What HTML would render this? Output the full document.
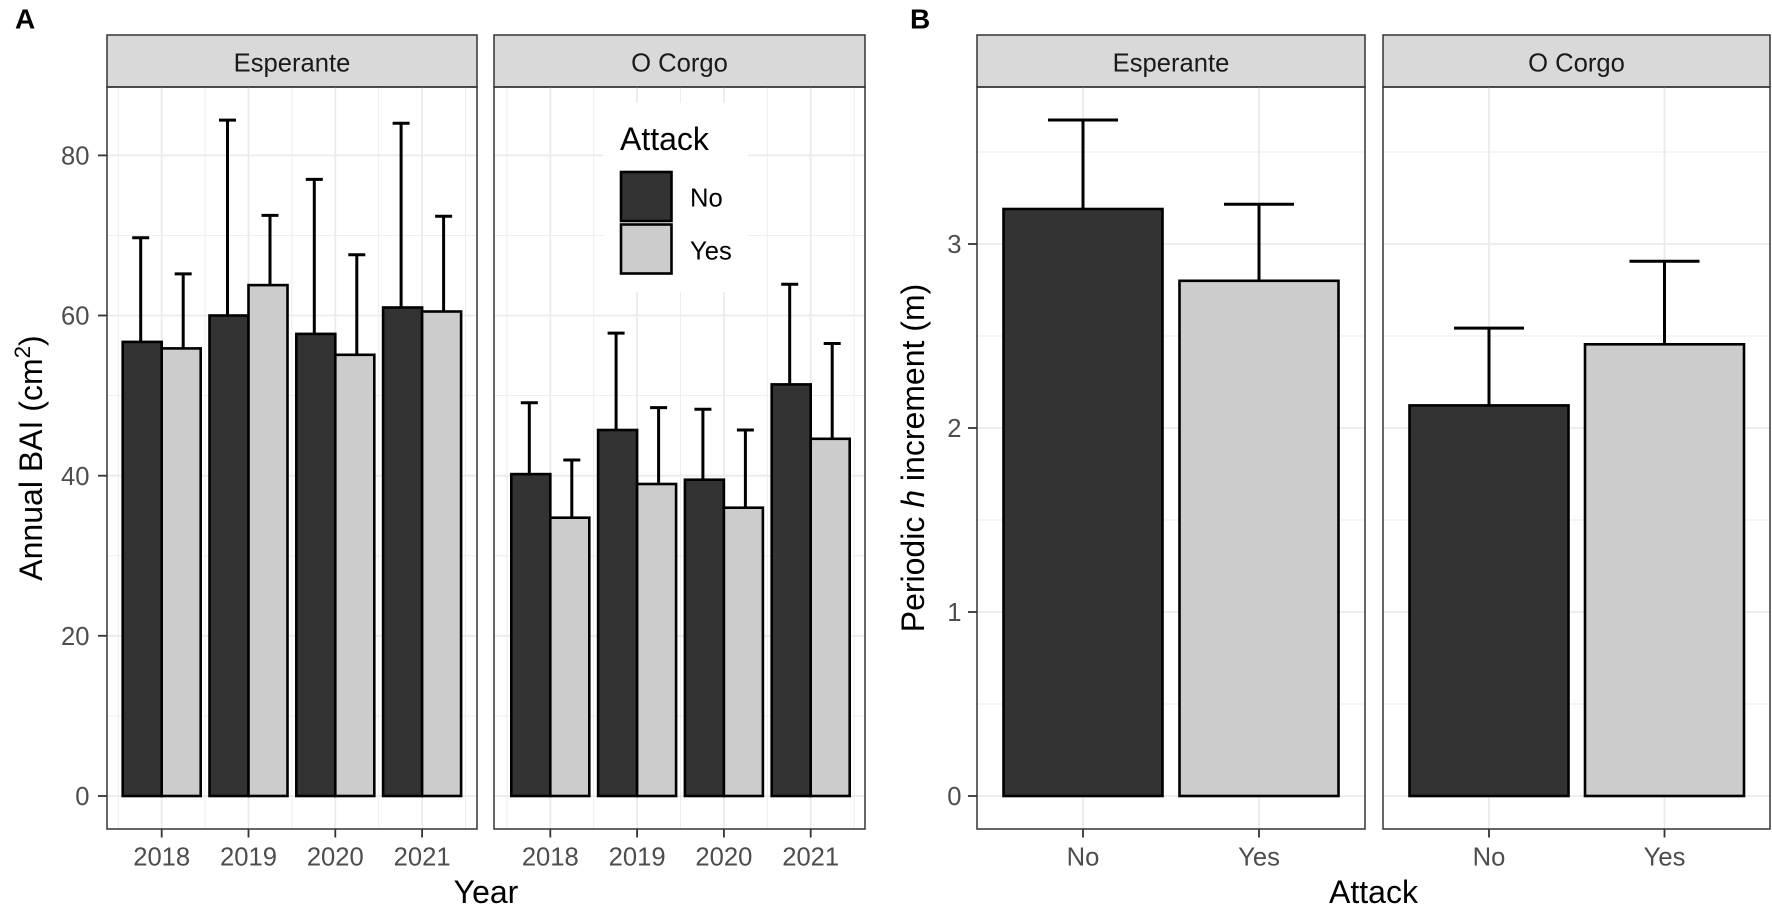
<!DOCTYPE html>
<html><head><meta charset="utf-8"><style>
html,body{margin:0;padding:0;background:#fff;}
svg{display:block;}
text{font-family:"Liberation Sans",Arial,sans-serif;}
</style></head><body>
<svg width="1772" height="909" viewBox="0 0 1772 909" xmlns="http://www.w3.org/2000/svg">
<rect width="1772" height="909" fill="#fff"/>

<!-- Panel labels -->
<text x="15" y="28.5" font-size="28" font-weight="bold" fill="#000">A</text>
<text x="910" y="28.5" font-size="28" font-weight="bold" fill="#000">B</text>

<!-- ================= PANEL A ================= -->
<rect x="107" y="35" width="370" height="52" fill="#D9D9D9" stroke="#333" stroke-width="1.5"/>
<text x="292" y="71.7" font-size="25.6" text-anchor="middle" fill="#1A1A1A">Esperante</text>
<rect x="494" y="35" width="371" height="52" fill="#D9D9D9" stroke="#333" stroke-width="1.5"/>
<text x="679.5" y="71.7" font-size="25.6" text-anchor="middle" fill="#1A1A1A">O Corgo</text>

<!-- Esperante A grid -->
<g stroke="#EBEBEB">
  <g stroke-width="0.9">
    <line x1="107" x2="477" y1="715.9" y2="715.9"/>
    <line x1="107" x2="477" y1="555.8" y2="555.8"/>
    <line x1="107" x2="477" y1="395.6" y2="395.6"/>
    <line x1="107" x2="477" y1="235.4" y2="235.4"/>
    <line y1="87" y2="829" x1="118.3" x2="118.3"/>
    <line y1="87" y2="829" x1="205.1" x2="205.1"/>
    <line y1="87" y2="829" x1="291.9" x2="291.9"/>
    <line y1="87" y2="829" x1="378.7" x2="378.7"/>
    <line y1="87" y2="829" x1="465.5" x2="465.5"/>
  </g>
  <g stroke-width="1.8">
    <line x1="107" x2="477" y1="796" y2="796"/>
    <line x1="107" x2="477" y1="635.8" y2="635.8"/>
    <line x1="107" x2="477" y1="475.7" y2="475.7"/>
    <line x1="107" x2="477" y1="315.5" y2="315.5"/>
    <line x1="107" x2="477" y1="155.4" y2="155.4"/>
    <line y1="87" y2="829" x1="161.7" x2="161.7"/>
    <line y1="87" y2="829" x1="248.5" x2="248.5"/>
    <line y1="87" y2="829" x1="335.3" x2="335.3"/>
    <line y1="87" y2="829" x1="422.1" x2="422.1"/>
  </g>
</g>
<!-- O Corgo A grid -->
<g stroke="#EBEBEB">
  <g stroke-width="0.9">
    <line x1="494" x2="865" y1="715.9" y2="715.9"/>
    <line x1="494" x2="865" y1="555.8" y2="555.8"/>
    <line x1="494" x2="865" y1="395.6" y2="395.6"/>
    <line x1="494" x2="865" y1="235.4" y2="235.4"/>
    <line y1="87" y2="829" x1="506.9" x2="506.9"/>
    <line y1="87" y2="829" x1="593.7" x2="593.7"/>
    <line y1="87" y2="829" x1="680.5" x2="680.5"/>
    <line y1="87" y2="829" x1="767.3" x2="767.3"/>
    <line y1="87" y2="829" x1="854.1" x2="854.1"/>
  </g>
  <g stroke-width="1.8">
    <line x1="494" x2="865" y1="796" y2="796"/>
    <line x1="494" x2="865" y1="635.8" y2="635.8"/>
    <line x1="494" x2="865" y1="475.7" y2="475.7"/>
    <line x1="494" x2="865" y1="315.5" y2="315.5"/>
    <line x1="494" x2="865" y1="155.4" y2="155.4"/>
    <line y1="87" y2="829" x1="550.3" x2="550.3"/>
    <line y1="87" y2="829" x1="637.1" x2="637.1"/>
    <line y1="87" y2="829" x1="723.9" x2="723.9"/>
    <line y1="87" y2="829" x1="810.7" x2="810.7"/>
  </g>
</g>

<!-- Legend (inside O Corgo) -->
<rect x="603" y="103" width="145" height="189" fill="#fff"/>
<text x="620" y="150" font-size="32" fill="#000">Attack</text>
<rect x="621" y="172" width="50.5" height="49" fill="#333333" stroke="#000" stroke-width="2.6"/>
<rect x="621" y="224.5" width="50.5" height="49" fill="#CCCCCC" stroke="#000" stroke-width="2.6"/>
<text x="690" y="206.5" font-size="25.6" fill="#000">No</text>
<text x="690" y="259.5" font-size="25.6" fill="#000">Yes</text>

<!-- Esperante A error bars -->
<g stroke="#000" stroke-width="3" fill="none">
  <path d="M140.7 341.9V237.8M132.2 237.8H149.2"/>
  <path d="M183.2 348.4V273.9M174.7 273.9H191.7"/>
  <path d="M227.5 315.5V120.1M219 120.1H236"/>
  <path d="M270 285.1V215.4M261.5 215.4H278.5"/>
  <path d="M314.3 333.9V179.4M305.8 179.4H322.8"/>
  <path d="M356.8 354.8V254.7M348.3 254.7H365.3"/>
  <path d="M401.1 307.5V123.3M392.6 123.3H409.6"/>
  <path d="M443.6 311.5V216.2M435.1 216.2H452.1"/>
</g>
<!-- Esperante A bars -->
<g stroke="#000" stroke-width="2.6">
  <rect x="122.7" y="341.9" width="39" height="454.1" fill="#333333"/>
  <rect x="161.7" y="348.4" width="39" height="447.6" fill="#CCCCCC"/>
  <rect x="209.5" y="315.5" width="39" height="480.5" fill="#333333"/>
  <rect x="248.5" y="285.1" width="39" height="510.9" fill="#CCCCCC"/>
  <rect x="296.3" y="333.9" width="39" height="462.1" fill="#333333"/>
  <rect x="335.3" y="354.8" width="39" height="441.2" fill="#CCCCCC"/>
  <rect x="383.1" y="307.5" width="39" height="488.5" fill="#333333"/>
  <rect x="422.1" y="311.5" width="39" height="484.5" fill="#CCCCCC"/>
</g>

<!-- O Corgo A error bars -->
<g stroke="#000" stroke-width="3" fill="none">
  <path d="M529.3 474.1V402.8M520.8 402.8H537.8"/>
  <path d="M571.8 517.7V460M563.3 460H580.3"/>
  <path d="M616.1 430V333.1M607.6 333.1H624.6"/>
  <path d="M658.6 484V407.6M650.1 407.6H667.1"/>
  <path d="M702.9 479.7V409.2M694.4 409.2H711.4"/>
  <path d="M745.4 507.7V430M736.9 430H753.9"/>
  <path d="M789.7 384.4V284.3M781.2 284.3H798.2"/>
  <path d="M832.2 438.8V343.5M823.7 343.5H840.7"/>
</g>
<!-- O Corgo A bars -->
<g stroke="#000" stroke-width="2.6">
  <rect x="511.3" y="474.1" width="39" height="321.9" fill="#333333"/>
  <rect x="550.3" y="517.7" width="39" height="278.3" fill="#CCCCCC"/>
  <rect x="598.1" y="430" width="39" height="366" fill="#333333"/>
  <rect x="637.1" y="484" width="39" height="312" fill="#CCCCCC"/>
  <rect x="684.9" y="479.7" width="39" height="316.3" fill="#333333"/>
  <rect x="723.9" y="507.7" width="39" height="288.3" fill="#CCCCCC"/>
  <rect x="771.7" y="384.4" width="39" height="411.6" fill="#333333"/>
  <rect x="810.7" y="438.8" width="39" height="357.2" fill="#CCCCCC"/>
</g>

<!-- Panel A borders -->
<rect x="107" y="87" width="370" height="742" fill="none" stroke="#333" stroke-width="1.5"/>
<rect x="494" y="87" width="371" height="742" fill="none" stroke="#333" stroke-width="1.5"/>

<!-- Panel A y axis -->
<g stroke="#333" stroke-width="1.8">
  <line x1="98" x2="107" y1="796" y2="796"/>
  <line x1="98" x2="107" y1="635.8" y2="635.8"/>
  <line x1="98" x2="107" y1="475.7" y2="475.7"/>
  <line x1="98" x2="107" y1="315.5" y2="315.5"/>
  <line x1="98" x2="107" y1="155.4" y2="155.4"/>
</g>
<g font-size="25.6" fill="#4D4D4D" text-anchor="end">
  <text x="89.5" y="805.2">0</text>
  <text x="89.5" y="645">20</text>
  <text x="89.5" y="484.9">40</text>
  <text x="89.5" y="324.7">60</text>
  <text x="89.5" y="164.6">80</text>
</g>
<!-- Panel A x axis ticks -->
<g stroke="#333" stroke-width="1.8">
  <line y1="829" y2="837.5" x1="161.7" x2="161.7"/>
  <line y1="829" y2="837.5" x1="248.5" x2="248.5"/>
  <line y1="829" y2="837.5" x1="335.3" x2="335.3"/>
  <line y1="829" y2="837.5" x1="422.1" x2="422.1"/>
  <line y1="829" y2="837.5" x1="550.3" x2="550.3"/>
  <line y1="829" y2="837.5" x1="637.1" x2="637.1"/>
  <line y1="829" y2="837.5" x1="723.9" x2="723.9"/>
  <line y1="829" y2="837.5" x1="810.7" x2="810.7"/>
</g>
<g font-size="25.6" fill="#4D4D4D" text-anchor="middle">
  <text x="161.7" y="865.7">2018</text>
  <text x="248.5" y="865.7">2019</text>
  <text x="335.3" y="865.7">2020</text>
  <text x="422.1" y="865.7">2021</text>
  <text x="550.3" y="865.7">2018</text>
  <text x="637.1" y="865.7">2019</text>
  <text x="723.9" y="865.7">2020</text>
  <text x="810.7" y="865.7">2021</text>
</g>
<text x="486" y="903" font-size="32" text-anchor="middle" fill="#000">Year</text>
<text transform="translate(42,458) rotate(-90)" font-size="32" text-anchor="middle" fill="#000">Annual BAI (cm<tspan font-size="22.4" dy="-12">2</tspan><tspan dy="12">)</tspan></text>

<!-- ================= PANEL B ================= -->
<rect x="977" y="35" width="388" height="52" fill="#D9D9D9" stroke="#333" stroke-width="1.5"/>
<text x="1171" y="71.7" font-size="25.6" text-anchor="middle" fill="#1A1A1A">Esperante</text>
<rect x="1383" y="35" width="387" height="52" fill="#D9D9D9" stroke="#333" stroke-width="1.5"/>
<text x="1576.5" y="71.7" font-size="25.6" text-anchor="middle" fill="#1A1A1A">O Corgo</text>

<!-- B grids -->
<g stroke="#EBEBEB">
  <g stroke-width="0.9">
    <line x1="977" x2="1365" y1="704" y2="704"/>
    <line x1="977" x2="1365" y1="520" y2="520"/>
    <line x1="977" x2="1365" y1="336" y2="336"/>
    <line x1="977" x2="1365" y1="152" y2="152"/>
    <line x1="1383" x2="1770" y1="704" y2="704"/>
    <line x1="1383" x2="1770" y1="520" y2="520"/>
    <line x1="1383" x2="1770" y1="336" y2="336"/>
    <line x1="1383" x2="1770" y1="152" y2="152"/>
  </g>
  <g stroke-width="1.8">
    <line x1="977" x2="1365" y1="796" y2="796"/>
    <line x1="977" x2="1365" y1="612" y2="612"/>
    <line x1="977" x2="1365" y1="428" y2="428"/>
    <line x1="977" x2="1365" y1="244" y2="244"/>
    <line y1="87" y2="829" x1="1083" x2="1083"/>
    <line y1="87" y2="829" x1="1259" x2="1259"/>
    <line x1="1383" x2="1770" y1="796" y2="796"/>
    <line x1="1383" x2="1770" y1="612" y2="612"/>
    <line x1="1383" x2="1770" y1="428" y2="428"/>
    <line x1="1383" x2="1770" y1="244" y2="244"/>
    <line y1="87" y2="829" x1="1489" x2="1489"/>
    <line y1="87" y2="829" x1="1664.5" x2="1664.5"/>
  </g>
</g>

<!-- B error bars -->
<g stroke="#000" stroke-width="3" fill="none">
  <path d="M1083 209V120M1048 120H1118"/>
  <path d="M1259 280.8V204.3M1224 204.3H1294"/>
  <path d="M1489 405.4V328.1M1454 328.1H1524"/>
  <path d="M1664.5 344.3V261.3M1629.5 261.3H1699.5"/>
</g>
<!-- B bars -->
<g stroke="#000" stroke-width="2.6">
  <rect x="1003.5" y="209" width="159" height="587" fill="#333333"/>
  <rect x="1179.5" y="280.8" width="159" height="515.2" fill="#CCCCCC"/>
  <rect x="1409.5" y="405.4" width="159" height="390.6" fill="#333333"/>
  <rect x="1585" y="344.3" width="159" height="451.7" fill="#CCCCCC"/>
</g>

<!-- B borders -->
<rect x="977" y="87" width="388" height="742" fill="none" stroke="#333" stroke-width="1.5"/>
<rect x="1383" y="87" width="387" height="742" fill="none" stroke="#333" stroke-width="1.5"/>

<!-- B y axis -->
<g stroke="#333" stroke-width="1.8">
  <line x1="968" x2="977" y1="796" y2="796"/>
  <line x1="968" x2="977" y1="612" y2="612"/>
  <line x1="968" x2="977" y1="428" y2="428"/>
  <line x1="968" x2="977" y1="244" y2="244"/>
</g>
<g font-size="25.6" fill="#4D4D4D" text-anchor="end">
  <text x="961.5" y="805.2">0</text>
  <text x="961.5" y="621.2">1</text>
  <text x="961.5" y="437.2">2</text>
  <text x="961.5" y="253.2">3</text>
</g>
<!-- B x axis -->
<g stroke="#333" stroke-width="1.8">
  <line y1="829" y2="837.5" x1="1083" x2="1083"/>
  <line y1="829" y2="837.5" x1="1259" x2="1259"/>
  <line y1="829" y2="837.5" x1="1489" x2="1489"/>
  <line y1="829" y2="837.5" x1="1664.5" x2="1664.5"/>
</g>
<g font-size="25.6" fill="#4D4D4D" text-anchor="middle">
  <text x="1083" y="865.7">No</text>
  <text x="1259" y="865.7">Yes</text>
  <text x="1489" y="865.7">No</text>
  <text x="1664.5" y="865.7">Yes</text>
</g>
<text x="1373.5" y="903" font-size="32" text-anchor="middle" fill="#000">Attack</text>
<text transform="translate(924,458) rotate(-90)" font-size="32" text-anchor="middle" fill="#000">Periodic <tspan font-style="italic">h</tspan> increment (m)</text>
</svg>
</body></html>
